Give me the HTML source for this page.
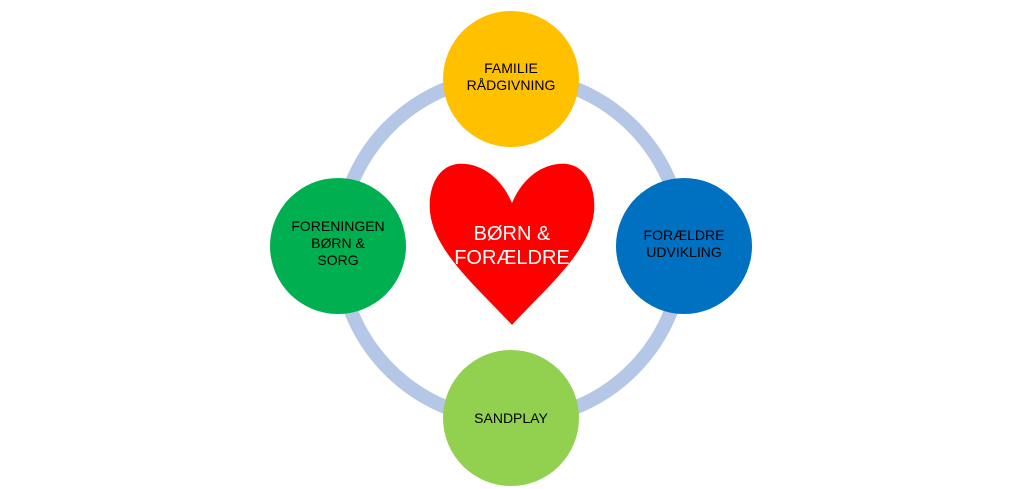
<!DOCTYPE html>
<html><head><style>body{margin:0;background:#fff;}</style></head><body>
<svg width="1024" height="489" xmlns="http://www.w3.org/2000/svg" style="display:block">
<circle cx="511" cy="248" r="172" fill="none" stroke="#b4c7e7" stroke-width="14"/>
<path d="M512,203 C500,175 478,162 457,164 C436,167 428,190 430,212 C434,252 480,290 512,325 C544,290 590,252 594,212 C596,190 588,167 567,164 C546,162 524,175 512,203 Z" fill="#ff0000"/>
<g font-family="Liberation Sans, sans-serif" text-anchor="middle">
<text x="512" y="240" font-size="20" fill="#fff">BØRN &amp;</text>
<text x="512" y="264" font-size="20" fill="#fff">FORÆLDRE</text>
<circle cx="511" cy="79" r="68" fill="#ffc000"/>
<circle cx="338" cy="246" r="68" fill="#00b050"/>
<circle cx="684" cy="246" r="68" fill="#0070c0"/>
<circle cx="511" cy="418" r="68" fill="#92d050"/>
<g font-size="14" fill="#000">
<text x="511" y="73">FAMILIE</text>
<text x="511" y="90">RÅDGIVNING</text>
<text x="338" y="231">FORENINGEN</text>
<text x="338" y="248">BØRN &amp;</text>
<text x="338" y="265">SORG</text>
<text x="684" y="240">FORÆLDRE</text>
<text x="684" y="257">UDVIKLING</text>
<text x="511" y="423">SANDPLAY</text>
</g></g>
</svg>
</body></html>
